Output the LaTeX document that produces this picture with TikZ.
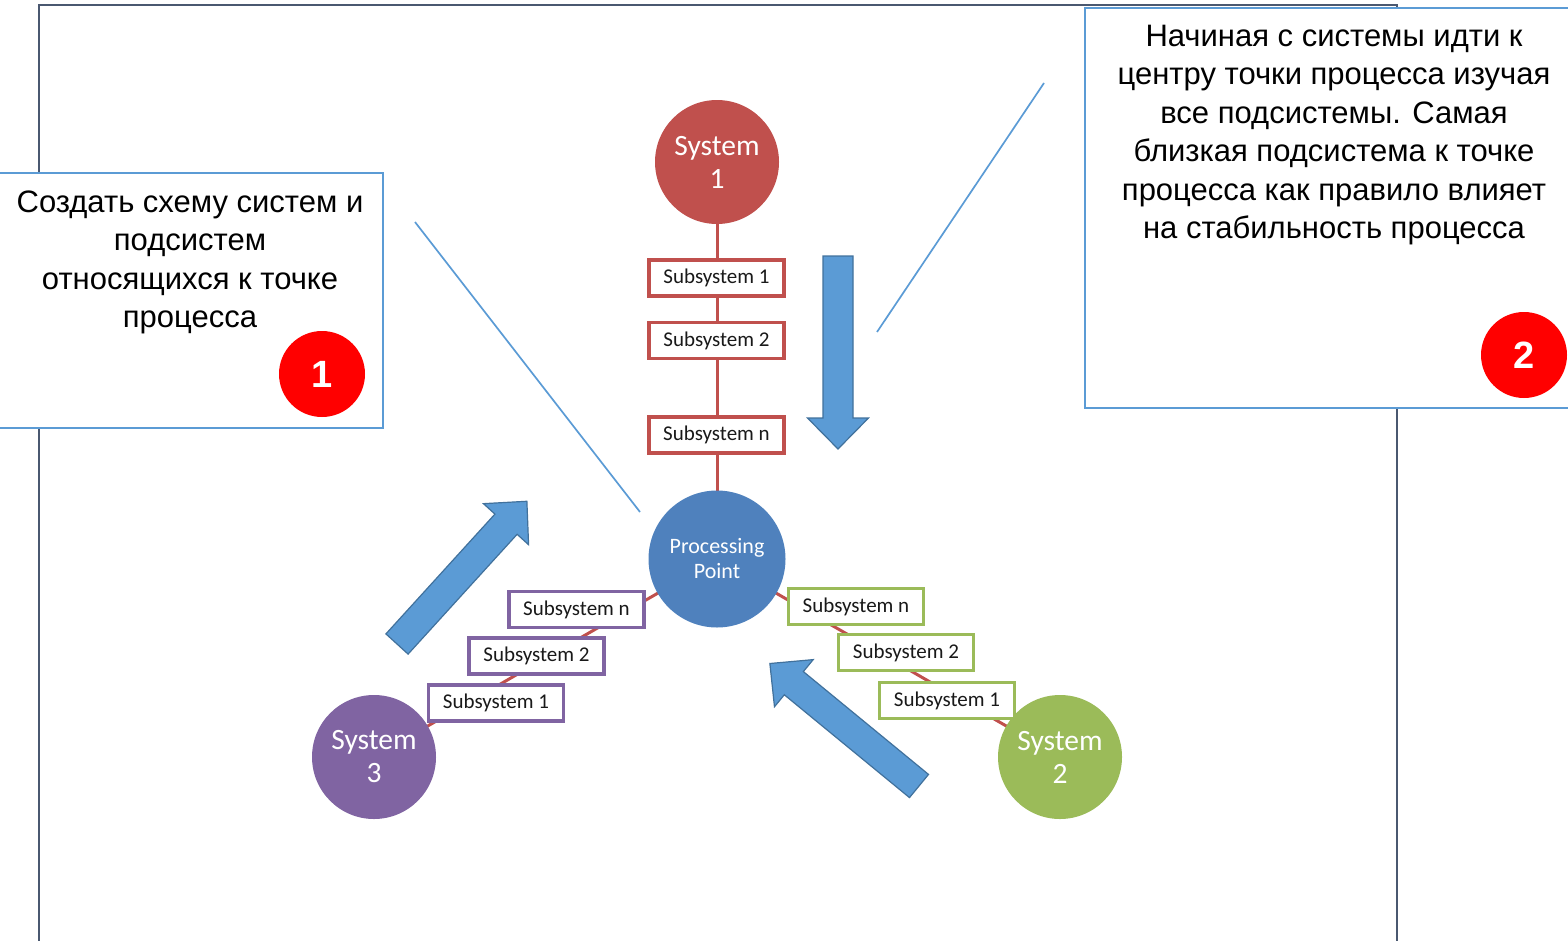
\documentclass[tikz,border=0pt]{standalone}
\usepackage{fontspec}
\setmainfont{Liberation Sans}
\newfontfamily\calibri{Carlito}
\usetikzlibrary{backgrounds}

\definecolor{sysred}{HTML}{C0504D}
\definecolor{sysblue}{HTML}{4F81BD}
\definecolor{sysgreen}{HTML}{9BBB59}
\definecolor{syspurple}{HTML}{8064A2}
\definecolor{arrowfill}{HTML}{5B9BD5}
\definecolor{arrowedge}{HTML}{41719C}
\definecolor{calloutblue}{HTML}{5B9BD5}
\definecolor{framegray}{HTML}{4A5870}
\definecolor{badgered}{HTML}{FF0000}

\begin{document}
\begin{tikzpicture}[x=1pt,y=-1pt,
  sysnode/.style={circle, fill=#1, minimum size=124pt, inner sep=0pt,
    text=white, align=center, font=\calibri\fontsize{29.5}{33}\selectfont},
  subbox/.style={draw=#1, line width=3.3pt, fill=white, minimum width=135pt,
    minimum height=36pt, inner sep=0pt, text=black!90,
    font=\calibri\fontsize{21}{24}\selectfont},
  link/.style={draw=sysred, line width=3pt},
  calloutbox/.style={draw=calloutblue, line width=2.5pt, fill=white},
  calloutline/.style={draw=calloutblue, line width=1.7pt},
  callouttext/.style={align=center, text=black, font=\fontsize{31}{38.5}\selectfont},
  badge/.style={circle, fill=badgered, minimum size=86pt, inner sep=0pt,
    text=white, font=\bfseries\fontsize{38}{40}\selectfont},
  blockarrowstyle/.style={fill=arrowfill, draw=arrowedge, line width=1.2pt, line join=miter},
  pics/blockarrow/.style={code={
    \path[blockarrowstyle] (0,-15) -- (162,-15) -- (162,-30.5) -- (193,0)
      -- (162,30.5) -- (162,15) -- (0,15) -- cycle;}}
]
\useasboundingbox (0,0) rectangle (1568,940);

% central processing point and the three systems
\node[sysnode=sysblue, minimum size=137pt, font=\calibri\fontsize{22}{25}\selectfont]
  (pp) at (717,559) {Processing\\Point};
\node[sysnode=sysred] (s1) at (717,162) {System\\1};
\node[sysnode=sysgreen] (s2) at (1060,757) {System\\2};
\node[sysnode=syspurple] (s3) at (374,757) {System\\3};

% subsystems of system 1
\node[subbox=sysred] (r1) at (716.5,278) {Subsystem 1};
\node[subbox=sysred] (r2) at (716.5,340.5) {Subsystem 2};
\node[subbox=sysred] (rn) at (716.5,435) {Subsystem n};

% subsystems of system 3
\node[subbox=syspurple] (p1) at (496,703) {Subsystem 1};
\node[subbox=syspurple] (p2) at (536.5,656) {Subsystem 2};
\node[subbox=syspurple] (pn) at (576.5,609.5) {Subsystem n};

% subsystems of system 2
\node[subbox=sysgreen] (g1) at (947,700.5) {Subsystem 1};
\node[subbox=sysgreen] (g2) at (906,652.5) {Subsystem 2};
\node[subbox=sysgreen] (gn) at (856,606.5) {Subsystem n};

\begin{scope}[on background layer]
  % page frame
  \draw[framegray, line width=1.8pt] (39,945) -- (39,5) -- (1397,5) -- (1397,945);
  % chains from each system to the processing point
  \draw[link] (s1.center) -- (pp.center);
  \draw[link] (s2.center) -- (pp.center);
  \draw[link] (s3.center) -- (pp.center);
\end{scope}

% direction arrows
\pic[rotate=-90] at (838,256) {blockarrow};
\pic[rotate=47.7] at (397,644) {blockarrow};
\pic[rotate=140.6] at (919,786) {blockarrow};

% callout 1
\node[calloutbox, minimum width=400pt, minimum height=255pt, inner sep=0pt]
  (box1) at (183,300.5) {};
\node[callouttext] (t1) at (190,262.5) {Создать схему систем и\\подсистем\\относящихся к точке\\процесса};
\node[badge] (b1) at (322,374) {1};
\coordinate (c1a) at (415,222);
\coordinate (c1b) at (640,512);
\draw[calloutline] (c1a) -- (c1b);

% callout 2
\node[calloutbox, minimum width=500pt, minimum height=400pt, inner sep=0pt]
  (box2) at (1335,208) {};
\node[callouttext] (t2) at (1334,135) {Начиная с системы идти к\\центру точки процесса изучая\\все подсистемы. Самая\\близкая подсистема к точке\\процесса как правило влияет\\на стабильность процесса};
\node[badge] (b2) at (1524,355) {2};
\coordinate (c2a) at (1044,83);
\coordinate (c2b) at (877,332);
\draw[calloutline] (c2a) -- (c2b);
\end{tikzpicture}
\end{document}
